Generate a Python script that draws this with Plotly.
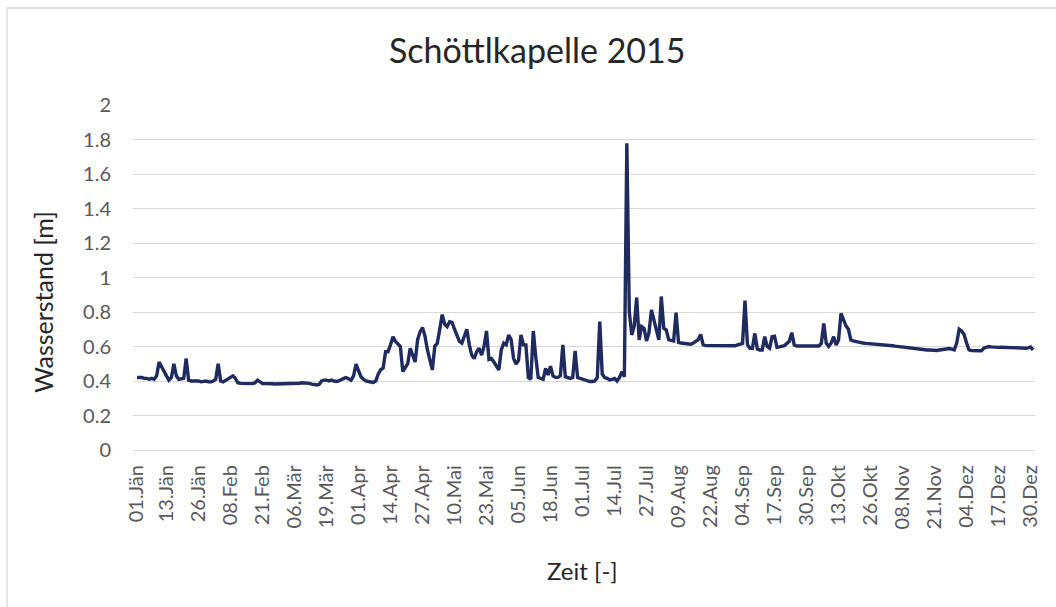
import pandas as pd
import plotly.graph_objects as go

# Daily water level at Schöttlkapelle, 2015 (metres), one list per month
jan = [0.42, 0.42, 0.42, 0.415, 0.415, 0.41, 0.415, 0.41, 0.43, 0.51, 0.48, 0.46, 0.43, 0.405, 0.42, 0.50,
       0.43, 0.41, 0.415, 0.415, 0.53, 0.405, 0.40, 0.40, 0.40, 0.40, 0.395, 0.40, 0.40, 0.395, 0.395]
feb = [0.40, 0.41, 0.50, 0.40, 0.395, 0.405, 0.41, 0.425, 0.43, 0.415, 0.39, 0.386, 0.386, 0.385,
       0.385, 0.385, 0.385, 0.39, 0.405, 0.395, 0.385, 0.385, 0.383, 0.383, 0.384, 0.383, 0.383, 0.385]
mar = [0.385, 0.383, 0.383, 0.383, 0.384, 0.383, 0.385, 0.387, 0.39, 0.39, 0.388, 0.386, 0.382, 0.378,
       0.377, 0.38, 0.40, 0.405, 0.405, 0.40, 0.405, 0.40, 0.397, 0.40, 0.41, 0.415, 0.42, 0.41, 0.405,
       0.43, 0.498]
apr = [0.46, 0.425, 0.41, 0.40, 0.397, 0.395, 0.392, 0.40, 0.44, 0.465, 0.475, 0.57, 0.57, 0.61, 0.657,
       0.63, 0.615, 0.60, 0.454, 0.475, 0.50, 0.59, 0.55, 0.51, 0.638, 0.685, 0.71, 0.66, 0.58, 0.52]
may = [0.464, 0.603, 0.618, 0.70, 0.785, 0.73, 0.715, 0.744, 0.74, 0.70, 0.67, 0.63, 0.62, 0.66, 0.70,
       0.61, 0.55, 0.53, 0.57, 0.59, 0.55, 0.60, 0.69, 0.525, 0.53, 0.51, 0.49, 0.464, 0.58, 0.62, 0.61]
jun = [0.667, 0.64, 0.53, 0.498, 0.52, 0.667, 0.61, 0.609, 0.42, 0.41, 0.69, 0.54, 0.42, 0.415, 0.41,
       0.473, 0.435, 0.486, 0.43, 0.421, 0.421, 0.43, 0.609, 0.425, 0.42, 0.415, 0.42, 0.575, 0.42, 0.415]
jul = [0.41, 0.405, 0.40, 0.397, 0.397, 0.40, 0.42, 0.744, 0.44, 0.42, 0.415, 0.406, 0.41, 0.415, 0.40,
       0.42, 0.454, 0.425, 1.778, 0.80, 0.667, 0.72, 0.884, 0.638, 0.716, 0.705, 0.632, 0.68, 0.812,
       0.754, 0.716]
aug = [0.638, 0.89, 0.705, 0.696, 0.64, 0.635, 0.632, 0.796, 0.624, 0.62, 0.618, 0.615, 0.613, 0.613,
       0.62, 0.629, 0.64, 0.67, 0.61, 0.605, 0.605, 0.604, 0.604, 0.606, 0.605, 0.604, 0.606, 0.605,
       0.604, 0.606, 0.605]
sep = [0.604, 0.61, 0.612, 0.618, 0.866, 0.61, 0.59, 0.59, 0.676, 0.585, 0.58, 0.58, 0.657, 0.60, 0.59,
       0.657, 0.66, 0.595, 0.598, 0.60, 0.605, 0.618, 0.63, 0.68, 0.609, 0.603, 0.603, 0.603, 0.602, 0.603]
okt = [0.603, 0.603, 0.603, 0.603, 0.603, 0.618, 0.734, 0.618, 0.60, 0.62, 0.657, 0.609, 0.638, 0.792,
       0.754, 0.72, 0.70, 0.638, 0.632, 0.628, 0.625, 0.622, 0.62, 0.618, 0.617, 0.616, 0.616, 0.615,
       0.613, 0.612, 0.61]
nov = [0.61, 0.608, 0.606, 0.604, 0.602, 0.60, 0.60, 0.598, 0.595, 0.593, 0.592, 0.59, 0.588, 0.586,
       0.585, 0.584, 0.582, 0.58, 0.58, 0.578, 0.576, 0.577, 0.58, 0.582, 0.586, 0.59, 0.588, 0.585,
       0.58, 0.62]
dez = [0.70, 0.69, 0.67, 0.62, 0.58, 0.576, 0.575, 0.575, 0.575, 0.575, 0.59, 0.595, 0.60, 0.598, 0.596,
       0.595, 0.595, 0.596, 0.595, 0.594, 0.592, 0.591, 0.59, 0.59, 0.59, 0.589, 0.59, 0.59, 0.592,
       0.597, 0.58]

# Axis labels as printed under the chart (Austrian month names)
tick_labels = ["01.Jän", "13.Jän", "26.Jän", "08.Feb", "21.Feb", "06.Mär", "19.Mär", "01.Apr",
               "14.Apr", "27.Apr", "10.Mai", "23.Mai", "05.Jun", "18.Jun", "01.Jul", "14.Jul",
               "27.Jul", "09.Aug", "22.Aug", "04.Sep", "17.Sep", "30.Sep", "13.Okt", "26.Okt",
               "08.Nov", "21.Nov", "04.Dez", "17.Dez", "30.Dez"]
month_no = {"Jän": 1, "Feb": 2, "Mär": 3, "Apr": 4, "Mai": 5, "Jun": 6, "Jul": 7, "Aug": 8,
            "Sep": 9, "Okt": 10, "Nov": 11, "Dez": 12}
tick_dates = [f"2015-{month_no[t[3:]]:02d}-{t[:2]}" for t in tick_labels]

levels = jan + feb + mar + apr + may + jun + jul + aug + sep + okt + nov + dez
dates = pd.date_range("2015-01-01", periods=len(levels), freq="D")

FONT = "Lato"
GRID = "#d9d9d9"

fig = go.Figure(
    go.Scatter(
        x=dates, y=levels, mode="lines",
        line=dict(color="#1f2a5e", width=3.4),
        hoverinfo="x+y",
    )
)

fig.update_layout(
    width=1056, height=607, autosize=False,
    margin=dict(l=133, r=21, t=105, b=157),
    paper_bgcolor="white", plot_bgcolor="white",
    showlegend=False,
    font=dict(family=FONT, color="#595959"),
    xaxis=dict(
        type="date",
        range=["2014-12-30 09:36", "2015-12-31 19:12"],
        tickmode="array", tickvals=tick_dates, ticktext=tick_labels,
        tickangle=-90, tickfont=dict(size=20, color="#595959"),
        showgrid=False, zeroline=False,
        showline=True, linecolor=GRID, linewidth=1.3,
        ticks="", ticklabelstandoff=6,
    ),
    yaxis=dict(
        range=[0, 2], dtick=0.2, tick0=0,
        tickfont=dict(size=20, color="#595959"),
        showgrid=True, gridcolor=GRID, gridwidth=1.3,
        zeroline=False, showline=False, ticks="",
        ticklabelstandoff=21,
    ),
    shapes=[
        # chart frame
        dict(type="rect", xref="paper", yref="paper",
             x0=(7 - 133) / 902, x1=1.06, y0=-0.5, y1=(450 - 8) / 345,
             line=dict(color=GRID, width=1.3), fillcolor="rgba(0,0,0,0)", layer="below"),
    ],
    annotations=[
        dict(text="Schöttlkapelle 2015", xref="paper", yref="paper",
             x=(537 - 133) / 902, y=(450 - 50) / 345, xanchor="center", yanchor="middle",
             showarrow=False, font=dict(family=FONT, size=34, color="#262626")),
        dict(text="Wasserstand [m]", xref="paper", yref="paper",
             x=(43 - 133) / 902, y=(450 - 302) / 345, xanchor="center", yanchor="middle",
             textangle=-90, showarrow=False, font=dict(family=FONT, size=25, color="#262626")),
        dict(text="Zeit [-]", xref="paper", yref="paper",
             x=(582 - 133) / 902, y=(450 - 570) / 345, xanchor="center", yanchor="middle",
             showarrow=False, font=dict(family=FONT, size=24, color="#262626")),
    ],
)

fig.write_html("out.html")
